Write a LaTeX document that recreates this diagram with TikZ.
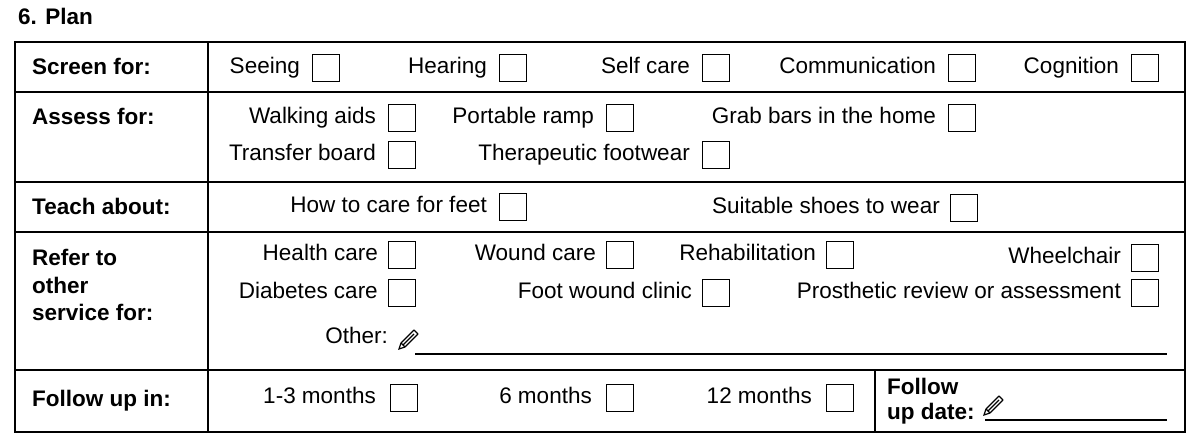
\documentclass[tikz,border=0pt]{standalone}
\usepackage{fontspec}
\setmainfont{Liberation Sans}
\newcommand{\formfont}{\fontsize{22.5}{27}\selectfont}
\tikzset{
  rule/.style={line width=1.6pt},
  lbl/.style={anchor=west, font=\bfseries\formfont, inner sep=0pt, text height=16pt, text depth=5pt},
  opt/.style={anchor=east, inner sep=0pt, text height=16pt, text depth=5pt},
  chk/.style={draw, line width=1.4pt, minimum size=27pt, inner sep=0pt, anchor=west},
  pics/pencil/.style={code={
    \draw[line width=1.2pt, line join=round] (-9,5) -- (-5,9) -- (8,-4) -- (4,-8) -- cycle;
    \draw[line width=1.2pt] (-9,5) -- (-11,11) -- (-5,9);
    \draw[line width=1.2pt] (4,-4) -- (-7,7);
  }}
}
\begin{document}
\begin{tikzpicture}[x=1pt, y=-1pt, font=\formfont]
    \useasboundingbox (0,0) rectangle (1200,443);
    % Title and the frame of the table
        \node[lbl] (title) at (18,19) {6. Plan};
        \draw[rule] (15,42) rectangle (1185,432);
        \draw[rule] (15,92) -- (1185,92);
        \draw[rule] (15,182) -- (1185,182);
        \draw[rule] (15,232) -- (1185,232);
        \draw[rule] (15,370) -- (1185,370);
        \draw[rule] (208,42) -- (208,432);
        \draw[rule] (875,370) -- (875,432);

    % Row labels
        \node[lbl] (screen) at (32,69) {Screen for:};
        \node[lbl] (assess) at (32,119) {Assess for:};
        \node[lbl] (teach) at (32,209) {Teach about:};
        \node[lbl, align=left, text height=, text depth=, font=\bfseries\fontsize{22.5}{27.5}\selectfont] (refer) at (32,285) {Refer to\\other\\service for:};
        \node[lbl] (follow) at (32,401) {Follow up in:};

    % Screen for
        \foreach \txt/\x [count=\i] in {Seeing/312, Hearing/499, Self care/702, Communication/948, Cognition/1131} {
            \node[chk] (sbox\i) at (\x,68) {};
            \node[opt] (stxt\i) at ([xshift=-12pt]sbox\i.west) {\txt};
        }

    % Assess for
        \foreach \txt/\x/\y [count=\i] in {Walking aids/388/118, Portable ramp/606/118, Grab bars in the home/948/118, Transfer board/388/155, Therapeutic footwear/702/155} {
            \node[chk] (abox\i) at (\x,\y) {};
            \node[opt] (atxt\i) at ([xshift=-12pt]abox\i.west) {\txt};
        }

    % Teach about
        \node[chk] (tbox1) at (499,207) {};
        \node[opt] (ttxt1) at ([xshift=-12pt]tbox1.west) {How to care for feet};
        \node[chk] (tbox2) at (950,208) {};
        \node[opt] (ttxt2) at ([xshift=-10pt]tbox2.west) {Suitable shoes to wear};

    % Refer to other service for
        \foreach \txt/\x/\y [count=\i] in {Health care/388/255, Wound care/606/255, Rehabilitation/826/255, Wheelchair/1131/258, Diabetes care/388/293, Foot wound clinic/702/293, Prosthetic review or assessment/1131/293} {
            \node[chk] (rbox\i) at (\x,\y) {};
            \node[opt] (rtxt\i) at ([xshift=-10pt]rbox\i.west) {\txt};
        }
        \node[opt] (other) at (388,338) {Other:};
        \pic at (410,338) {pencil};
        \coordinate (olinea) at (415,354);
        \coordinate (olineb) at (1167,354);
        \draw[line width=1.2pt] (olinea) -- (olineb);

    % Follow up in
        \foreach \txt/\x [count=\i] in {1-3 months/390, 6 months/606, 12 months/826} {
            \node[chk] (fbox\i) at (\x,398) {};
            \node[opt] (ftxt\i) at ([xshift=-14pt]fbox\i.west) {\txt};
        }
        \node[lbl, align=left, text height=, text depth=, font=\bfseries\fontsize{22.5}{25}\selectfont] (fdate) at (887,401) {Follow\\up date:};
        \pic at (995,404) {pencil};
        \coordinate (dlinea) at (985,420);
        \coordinate (dlineb) at (1167,420);
        \draw[line width=1.2pt] (dlinea) -- (dlineb);
    \end{tikzpicture}
\end{document}
